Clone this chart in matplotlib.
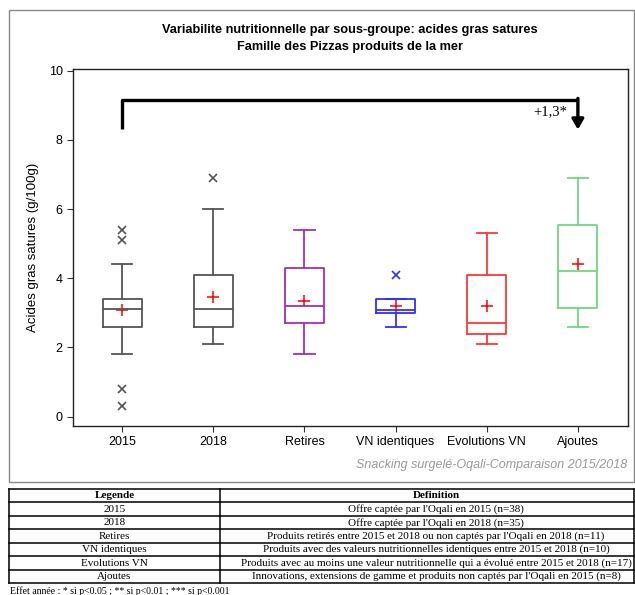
import matplotlib
matplotlib.use("Agg")
import matplotlib.pyplot as plt
from matplotlib.patches import Rectangle

plt.rcParams['font.family'] = ['Liberation Sans', 'DejaVu Sans']

# donnees (g/100g)
groupes = ["2015", "2018", "Retires", "VN identiques", "Evolutions VN", "Ajoutes"]
whislo = [1.8, 2.1, 1.8, 2.6, 2.1, 2.6]
q1 = [2.6, 2.6, 2.7, 3.0, 2.4, 3.15]
med = [3.1, 3.1, 3.2, 3.07, 2.7, 4.2]
q3 = [3.4, 4.1, 4.3, 3.4, 4.1, 5.53]
whishi = [4.4, 6.0, 5.4, 3.4, 5.3, 6.9]
moyennes = [3.07, 3.47, 3.33, 3.2, 3.2, 4.4]
aberrants = [[5.4, 5.1, 0.8, 0.3], [6.9], [], [4.1], [], []]
couleurs = ["#555555", "#555555", "#a030b8", "#3030ff", "#ff3838", "#70d880"]

legende = ["2015", "2018", "Retires", "VN identiques", "Evolutions VN", "Ajoutes"]
definitions = [
    "Offre captée par l'Oqali en 2015 (n=38)",
    "Offre captée par l'Oqali en 2018 (n=35)",
    "Produits retirés entre 2015 et 2018 ou non captés par l'Oqali en 2018 (n=11)",
    "Produits avec des valeurs nutritionnelles identiques entre 2015 et 2018 (n=10)",
    "Produits avec au moins une valeur nutritionnelle qui a évolué entre 2015 et 2018 (n=17)",
    "Innovations, extensions de gamme et produits non captés par l'Oqali en 2015 (n=8)",
]
effet_annee = "+1,3*"

W, H = 635, 595
fig = plt.figure(figsize=(W / 100, H / 100), dpi=100)

# calque en pixels pour le cadre et le tableau
bg = fig.add_axes([0, 0, 1, 1])
bg.set_xlim(0, W)
bg.set_ylim(H, 0)
bg.axis("off")
bg.add_patch(Rectangle((9, 10), 625, 472, fill=False, ec="#888888", lw=1))

ax = fig.add_axes([73 / W, 1 - 426 / H, (628 - 73) / W, (426 - 69) / H])
pos = list(range(1, len(groupes) + 1))
for i, g in enumerate(groupes):
    st = [dict(whislo=whislo[i], q1=q1[i], med=med[i], q3=q3[i], whishi=whishi[i], fliers=[])]
    c = couleurs[i]
    ax.bxp(st, positions=[pos[i]], widths=0.43, showfliers=False,
           boxprops=dict(color=c, lw=1.3), medianprops=dict(color=c, lw=1.3),
           whiskerprops=dict(color=c, lw=1.3), capprops=dict(color=c, lw=1.3),
           capwidths=0.22)
    ax.plot([pos[i]] * len(aberrants[i]), aberrants[i], ls="none", marker="x",
            ms=6, mew=1.2, color=c)
    ax.plot(pos[i], moyennes[i], ls="none", marker="+", ms=9, mew=1.1, color="red")

ax.set_xlim(0.46, 6.55)
ax.set_ylim(-0.27, 10.05)
ax.set_yticks([0, 2, 4, 6, 8, 10])
ax.set_xticks(pos)
ax.set_xticklabels(groupes)
ax.tick_params(labelsize=9, length=4, width=0.8, color="#333333")
ax.set_ylabel("Acides gras satures (g/100g)", fontsize=9.5, labelpad=7)
for s in ax.spines.values():
    s.set_linewidth(1)
    s.set_color("#222222")

# accolade effet annee
ax.plot([1, 1, 6], [8.33, 9.16, 9.16], color="black", lw=2.4,
        solid_joinstyle="round", solid_capstyle="butt")
ax.annotate("", xy=(6, 8.3), xytext=(6, 9.2),
            arrowprops=dict(arrowstyle="-|>,head_width=0.35,head_length=0.6",
                            color="black", lw=2.4, shrinkA=0, shrinkB=0))
ax.text(5.88, 8.62, effet_annee, ha="right", va="bottom", fontsize=10.5,
        family="Liberation Serif")

fig.text(350 / W, 1 - 30 / H, "Variabilite nutritionnelle par sous-groupe: acides gras satures",
         ha="center", va="center", fontsize=9.2, fontweight="bold")
fig.text(350 / W, 1 - 47 / H, "Famille des Pizzas produits de la mer",
         ha="center", va="center", fontsize=9.2, fontweight="bold")
fig.text(627 / W, 1 - 465 / H, "Snacking surgelé-Oqali-Comparaison 2015/2018",
         ha="right", va="center", fontsize=9, style="italic", color="#999999")

# tableau de legende
top, rh = 488.8, 13.5
x0, xm, x1 = 9, 220, 634
nrow = len(legende) + 1
for k in range(nrow + 1):
    bg.plot([x0, x1], [top + k * rh] * 2, color="black", lw=1.1)
for xx in (x0, xm, x1):
    bg.plot([xx, xx], [top, top + nrow * rh], color="black", lw=1.1)
serif = "Liberation Serif"
bg.text((x0 + xm) / 2, top + rh / 2, "Legende", ha="center", va="center",
        fontsize=8, fontweight="bold", family=serif)
bg.text((xm + x1) / 2 + 9, top + rh / 2, "Definition", ha="center", va="center",
        fontsize=8, fontweight="bold", family=serif)
for k in range(len(legende)):
    yy = top + (k + 1.5) * rh
    bg.text((x0 + xm) / 2, yy, legende[k], ha="center", va="center", fontsize=8, family=serif)
    bg.text((xm + x1) / 2 + 9, yy, definitions[k], ha="center", va="center", fontsize=8, family=serif)
bg.text(10, 591, "Effet année : * si p<0.05 ; ** si p<0.01 ; *** si p<0.001",
        ha="left", va="center", fontsize=7, family=serif)

fig.savefig("out.png", dpi=100)
